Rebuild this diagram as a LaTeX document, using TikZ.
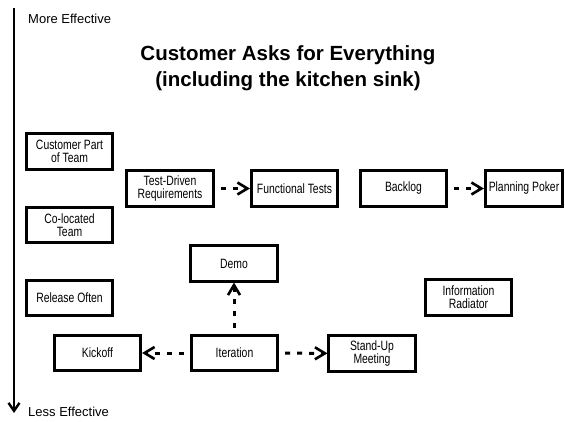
\documentclass[tikz,border=0pt]{standalone}
\usepackage{fontspec}
\setmainfont{Liberation Sans}
\newfontfamily\narrowfont[FakeStretch=0.77]{Liberation Sans}
\usetikzlibrary{arrows.meta}
\begin{document}
\begin{tikzpicture}[x=1pt,y=-1pt,
  box/.style={draw,line width=2.6pt,minimum width=86.5pt,minimum height=35.5pt,inner sep=1pt,
    align=center,font=\narrowfont\fontsize{13.5}{13}\selectfont},
  dasharrow/.style={line width=3pt,dash pattern=on 5pt off 7pt,dash phase=6pt,
    -{Straight Barb[length=10pt,width=12pt,line width=2.6pt]}},
  axislabel/.style={anchor=west,inner sep=0pt,font=\fontsize{13}{13}\selectfont},
  titlefont/.style={anchor=base,inner sep=0pt,font=\bfseries\fontsize{20.5}{20.5}\selectfont}]
\useasboundingbox (0,0) rectangle (565,422);
% axis
\coordinate (atop) at (14,8);
\coordinate (abot) at (14,413);
\draw[line width=2.4pt,-{Straight Barb[length=8pt,width=11pt,line width=2.4pt]}] (atop) -- (abot);
\node[axislabel] (more) at (28,19) {More Effective};
\node[axislabel] (less) at (28,412) {Less Effective};
% title
\node[titlefont] (t1) at (288,61) {Customer Asks for Everything};
\node[titlefont] (t2) at (288,87) {(including the kitchen sink)};
% boxes
\node[box] (cust) at (69.5,151.5) {Customer Part\\of Team};
\node[box] (coloc) at (69.5,225) {Co-located\\Team};
\node[box] (tdr) at (170,188.5) {Test-Driven\\Requirements};
\node[box] (func) at (294.5,188.5) {Functional Tests};
\node[box] (backlog) at (403.5,188.5) {Backlog};
\node[box,minimum width=77.5pt] (poker) at (524,188.5) {Planning Poker};
\node[box] (demo) at (234,263.5) {Demo};
\node[box] (release) at (69.5,298) {Release Often};
\node[box] (kickoff) at (97.5,353) {Kickoff};
\node[box] (iter) at (234.5,353) {Iteration};
\node[box] (standup) at (372,353.5) {Stand-Up\\Meeting};
\node[box] (info) at (468.5,297.5) {Information\\Radiator};
% connectors
\draw[dasharrow] (tdr) -- (func);
\draw[dasharrow] (backlog) -- (poker);
\draw[dasharrow] (iter) -- (kickoff);
\draw[dasharrow] (iter) -- (standup);
\draw[dasharrow] (iter.north -| demo.south) -- (demo.south);
\end{tikzpicture}
\end{document}
